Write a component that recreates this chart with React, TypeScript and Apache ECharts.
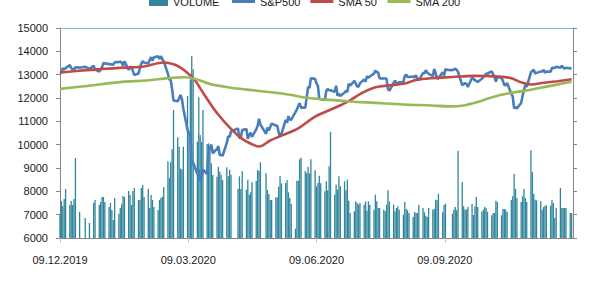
import { useEffect, useRef } from 'react';
import * as echarts from 'echarts';

// x values are calendar days counted from 09.12.2019 (Monday); each week row is Mon..Fri
const tickLabels = ['09.12.2019', '09.03.2020', '09.06.2020', '09.09.2020', '09.12.2020'];
const seriesNames = ['VOLUME', 'S&P500', 'SMA 50', 'SMA 200'];

const sp500Weeks: (number | null)[][] = [
  [13105, 13071, 13283, 13222, 13282],
  [13407, 13287, 13222, 13212, 13319],
  [13300, null, null, null, 13337],
  [13249, null, null, 13386, 13219],
  [13127, 13227, 13320, 13495, 13483],
  [13452, 13456, 13432, 13429, 13526],
  [13548, 13556, 13515, 13388, 13577],
  [13205, 13324, 13345, 13158, 12982],
  [13046, 13281, 13478, 13575, 13514],
  [13494, 13628, 13750, 13595, 13745],
  [13784, 13681, 13789, 13665, 13579],
  [13035, 12791, 12775, 12368, 11890],
  [11858, 11985, 12128, 11944, 11542],
  [10625, 10475, 10439, 9161, 9232],
  [8742, 8939, 8442, 8610, 8929],
  [8742, 9701, 9874, 10000, 9633],
  [9816, 9936, 9544, 9571, 9526],
  [10075, 10356, 10333, 10565, null],
  [null, 10697, 10280, 10302, 10626],
  [10675, 10250, 10416, 10514, 10337],
  [10660, 10796, 11108, 10862, null],
  [10467, 10730, 10606, 10760, 10904],
  [10824, 10799, 10542, 10337, 10465],
  [11058, 10939, 11223, 11065, 11074],
  [11392, 11504, 11657, 11782, 11587],
  [11586, 12021, 12487, 12431, 12848],
  [12820, 12617, 12530, 11970, 11949],
  [11911, 12315, 12382, 12331, 12331],
  [12262, 12524, 12093, 12178, 12089],
  [12233, 12311, 12260, 12608, 12528],
  [12733, 12617, 12495, 12489, 12633],
  [12800, 12697, 12931, 12874, 12920],
  [13046, 13171, 13104, 13104, 12838],
  [12839, 12835, 12822, 12380, 12313],
  [12647, 12735, 12660, 12592, 12675],
  [12687, 12947, 12994, 12902, 12901],
  [12920, 12882, 12977, 12830, 12765],
  [13067, 13066, 13190, 13096, 13033],
  [12945, 13243, 13057, 12843, 12843],
  [13100, 12968, 13238, 13209, 13202],
  [13194, 13218, 13256, 13208, 13116],
  [12542, 12594, 12642, 12606, 12469],
  [12871, 12825, 12761, 12731, 12689],
  [12828, 12906, 12928, 13042, 13051],
  [13139, 13019, 12918, 12704, 12909],
  [12854, 12737, 12558, 12543, 12646],
  [12178, 12064, 11561, 11598, 11556],
  [11789, 12089, 12325, 12568, 12480],
  [13096, 13163, 13217, 13053, 13077],
  [13139, 13133, 13202, 13087, 13137],
  [13127, 13292, 13290, 13286, 13336],
  [13292, 13383, 13313, 13253, 13299],
  [13271, 13278, null, null, null],
];

const volumeWeeks: (number | null)[][] = [
  [7000, 7586, 7371, 7671, 8100],
  [7414, 7586, 7414, 7671, 9429],
  [7114, null, null, null, 6857],
  [6643, null, null, 7500, 7629],
  [7414, 7543, 7757, 7757, 7543],
  [7329, 7500, 7200, 6771, 7714],
  [7043, 7286, 7450, 7800, 7757],
  [8014, 7843, 7414, 8014, 8143],
  [7629, 7629, 8143, 8271, 7757],
  [8100, 7286, 7843, 7629, 7329],
  [7200, 7629, 7714, 7771, 8186],
  [9286, 8571, 9257, 9800, 11486],
  [10314, 9914, 8971, 8943, 9914],
  [12086, 10443, 12800, 13800, 13229],
  [10129, 12029, 10414, 10114, 11486],
  [10029, 10057, 9914, 9200, 8700],
  [8629, 9057, 8843, 8700, 8486],
  [9029, 8643, 8929, 8714, null],
  [null, 8100, 8643, 8100, 8857],
  [8071, 8500, 7857, 7957, 8400],
  [8443, 8914, 8871, 9243, null],
  [8771, 8057, 7886, 7629, 7629],
  [7743, 7743, 8200, 8657, 8343],
  [8343, 8486, 7957, 7714, 7457],
  [6400, 8457, 8457, 9371, 9443],
  [8871, 8771, 9057, 8771, 9371],
  [8900, 8214, 8357, 8671, 8343],
  [8000, 8429, 8043, 9071, 10543],
  [7857, 8286, 8071, 8643, 8214],
  [8429, 8043, 8500, 7600, 7071],
  [7143, 7571, 7500, 7429, 7500],
  [7429, 7571, 7171, 7571, 7429],
  [7214, 7857, 7571, 7286, 7286],
  [7214, 7143, 7429, 8043, 7571],
  [7429, 7143, 7286, 7357, 7214],
  [7000, 7543, 7243, 7186, 7071],
  [6900, 7114, 7071, 7071, 7414],
  [7286, 7100, 6957, 6900, 7286],
  [7214, 7243, 7643, 7614, 7900],
  [7100, 7414, 7471, 5800, 5800],
  [7043, 7214, 7329, 7186, 9743],
  [8400, 7357, 7214, 7214, 7329],
  [7471, 6986, 7357, 7757, 7329],
  [7129, 7214, 7329, 7286, 7129],
  [6971, 7071, 7071, 7600, 7543],
  [6971, 7243, 7243, 7214, 7114],
  [7629, 7786, 8743, 8100, 7714],
  [7543, 7786, 8100, 7714, 7543],
  [9757, 8829, 7900, 7643, 7614],
  [7571, 7214, 7329, 7386, 7400],
  [7386, 7643, 7500, 6857, 7286],
  [8143, 7286, 7286, 7286, 7286],
  [7071, 7071, null, null, null],
];

const sma50Days = [0, 14, 30, 45, 60, 74, 81, 86, 91, 96, 103, 112, 122, 130, 137, 142, 150, 159, 170, 182, 195, 206, 215, 225, 235, 245, 254, 265, 280, 295, 305, 315, 322, 329, 336, 345, 355, 365];
const sma50Values = [13090, 13170, 13240, 13300, 13350, 13520, 13450, 13300, 13070, 12780, 12140, 11360, 10680, 10250, 10020, 9920, 10180, 10410, 10700, 11200, 11550, 11870, 12200, 12460, 12540, 12610, 12770, 12850, 12900, 12950, 12940, 12910, 12850, 12670, 12580, 12650, 12720, 12800];

const sma200Days = [0, 20, 44, 62, 77, 88, 92, 98, 108, 115, 123, 139, 150, 164, 176, 190, 207, 225, 245, 265, 278, 288, 298, 306, 315, 324, 335, 350, 365];
const sma200Values = [12390, 12520, 12690, 12750, 12850, 12890, 12880, 12790, 12580, 12510, 12430, 12320, 12250, 12140, 12010, 11930, 11850, 11790, 11720, 11680, 11640, 11680, 11830, 11990, 12140, 12240, 12340, 12520, 12700];

const weeksToPoints = (weeks: (number | null)[][]) => {
  const out: [number, number][] = [];
  weeks.forEach((w, wi) =>
    w.forEach((v, di) => {
      if (v != null) out.push([wi * 7 + di, v]);
    })
  );
  return out;
};

const pair = (days: number[], vals: number[]) => days.map((d, i) => [d, vals[i]]);

const FONT = 'Liberation Sans, Arial, sans-serif';
const TXT = '#1a1a1a';

export default function App() {
  const ref = useRef<HTMLDivElement>(null);
  useEffect(() => {
    document.body.style.margin = '0';
    if (!ref.current) return;
    const chart = echarts.init(ref.current, undefined, { renderer: 'svg' });
    const axisGray = '#868686';
    const legendText = { fontSize: 11, color: TXT, fontFamily: FONT };
    chart.setOption({
      animation: false,
      grid: { left: 60, right: 25, top: 28, bottom: 46, containLabel: false, outerBoundsMode: 'none' },
      legend: [
        {
          top: -4,
          left: 149,
          padding: 0,
          itemWidth: 19,
          itemHeight: 9,
          textStyle: legendText,
          data: [{ name: seriesNames[0], icon: 'rect' }],
        },
        {
          top: -4,
          left: 232,
          padding: 0,
          itemWidth: 23,
          itemHeight: 3,
          itemGap: 10,
          textStyle: legendText,
          data: [
            { name: seriesNames[1], icon: 'rect' },
            { name: seriesNames[2], icon: 'rect' },
            { name: seriesNames[3], icon: 'rect' },
          ],
        },
      ],
      xAxis: [
        {
          type: 'value',
          min: 0,
          max: 366,
          interval: 91.5,
          position: 'bottom',
          axisLine: { show: true, onZero: false, lineStyle: { color: axisGray, width: 1 } },
          axisTick: { show: true, length: 5, lineStyle: { color: '#C8C8C8' } },
          axisLabel: {
            margin: 16,
            fontSize: 11,
            color: TXT,
            fontFamily: FONT,
            showMaxLabel: false,
            formatter: (v: number) => tickLabels[Math.round(v / 91.5)] ?? '',
          },
          splitLine: { show: false },
        },
        {
          type: 'value',
          min: 0,
          max: 366,
          position: 'top',
          axisLine: { show: true, onZero: false, lineStyle: { color: '#8EB4E3', width: 1 } },
          axisTick: { show: false },
          axisLabel: { show: false },
          splitLine: { show: false },
        },
      ],
      yAxis: [
        {
          type: 'value',
          min: 6000,
          max: 15000,
          interval: 1000,
          position: 'left',
          axisLine: { show: true, onZero: false, lineStyle: { color: axisGray } },
          axisTick: { show: true, length: 4, lineStyle: { color: axisGray } },
          axisLabel: {
            margin: 12,
            fontSize: 11,
            color: TXT,
            fontFamily: FONT,
            formatter: (v: number) => String(v),
          },
          splitLine: { show: false },
        },
        {
          type: 'value',
          min: 6000,
          max: 15000,
          interval: 1000,
          position: 'right',
          axisLine: { show: true, onZero: false, lineStyle: { color: axisGray } },
          axisTick: { show: true, length: 4, lineStyle: { color: axisGray } },
          axisLabel: { show: false },
          splitLine: { show: false },
        },
      ],
      series: [
        {
          name: seriesNames[0],
          type: 'bar',
          data: weeksToPoints(volumeWeeks),
          barWidth: 1.3,
          clip: true,
          itemStyle: { color: '#31859C' },
        },
        {
          name: seriesNames[1],
          type: 'line',
          data: weeksToPoints(sp500Weeks),
          symbol: 'none',
          lineStyle: { color: '#4A7EBB', width: 2.6 },
          itemStyle: { color: '#4A7EBB' },
        },
        {
          name: seriesNames[2],
          type: 'line',
          data: pair(sma50Days, sma50Values),
          symbol: 'none',
          smooth: 0.35,
          lineStyle: { color: '#BE4B48', width: 2.6 },
          itemStyle: { color: '#BE4B48' },
        },
        {
          name: seriesNames[3],
          type: 'line',
          data: pair(sma200Days, sma200Values),
          symbol: 'none',
          smooth: 0.35,
          lineStyle: { color: '#98B954', width: 2.6 },
          itemStyle: { color: '#98B954' },
        },
      ],
    });
    return () => chart.dispose();
  }, []);
  return (
    <div
      ref={ref}
      style={{ width: 598, height: 284, position: 'fixed', left: 0, top: 0, background: '#fff' }}
    />
  );
}
